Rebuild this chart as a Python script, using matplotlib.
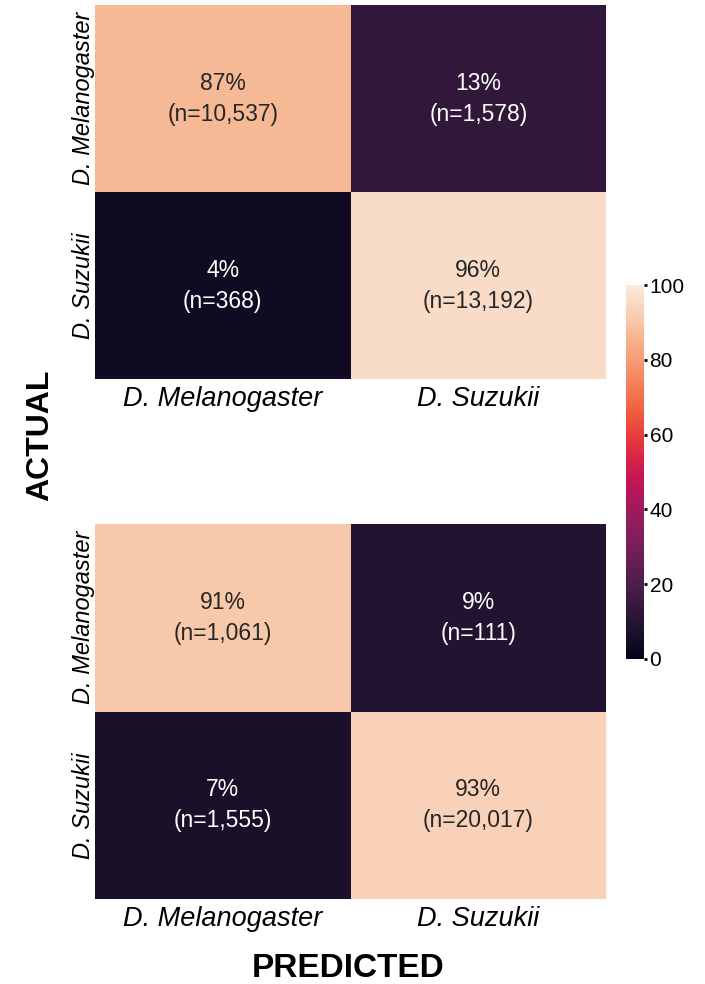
import numpy as np
import matplotlib
matplotlib.use("Agg")
import matplotlib.pyplot as plt
import seaborn as sns

plt.rcParams['font.family'] = ['Liberation Sans', 'DejaVu Sans']

classes = ["D. Melanogaster", "D. Suzukii"]

# percentages (rows = actual, cols = predicted)
pct_top = [[87, 13], [4, 96]]
cnt_top = [[10537, 1578], [368, 13192]]
pct_bot = [[91, 9], [7, 93]]
cnt_bot = [[1061, 111], [1555, 20017]]


def labels(pct, cnt):
    out = []
    for r in range(2):
        row = []
        for c in range(2):
            row.append(str(pct[r][c]) + "%\n(n=" + format(cnt[r][c], ",") + ")")
        out.append(row)
    return np.array(out)


fig = plt.figure(figsize=(7.05, 9.84), dpi=100)
ax1 = fig.add_axes([0.1348, 0.6148, 0.7248, 0.380])
ax2 = fig.add_axes([0.1348, 0.0864, 0.7248, 0.381])
cax = fig.add_axes([0.888, 0.3303, 0.0255, 0.380])

for ax, pct, cnt, cb in [(ax1, pct_top, cnt_top, True), (ax2, pct_bot, cnt_bot, False)]:
    sns.heatmap(np.array(pct), ax=ax, cmap="rocket", vmin=0, vmax=100,
                annot=labels(pct, cnt), fmt="", cbar=cb, cbar_ax=cax if cb else None,
                annot_kws={"fontsize": 16.5, "linespacing": 1.45},
                xticklabels=classes, yticklabels=classes)
    ax.set_xticklabels(classes, fontsize=19.5, style="italic", rotation=0)
    ax.set_yticklabels(classes, fontsize=17, style="italic", rotation=90, va="center")
    ax.tick_params(axis="x", length=0, pad=5)
    ax.tick_params(axis="y", length=0, pad=0)

cax.set_yticks([0, 20, 40, 60, 80, 100])
cax.tick_params(labelsize=15, length=2, width=2, pad=2)
for s in cax.spines.values():
    s.set_visible(False)

fig.text(0.057, 0.558, "ACTUAL", rotation=90, fontsize=23, fontweight="bold",
         ha="center", va="center")
fig.text(0.494, 0.016, "PREDICTED", fontsize=24, fontweight="bold",
         ha="center", va="center")

plt.savefig("out.png", dpi=100)
